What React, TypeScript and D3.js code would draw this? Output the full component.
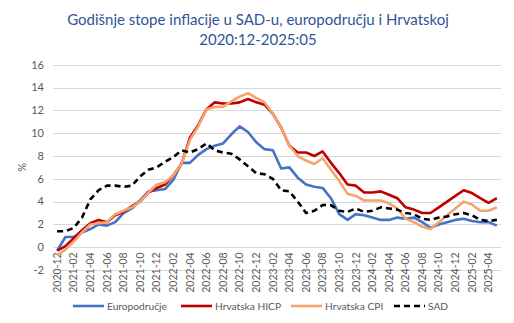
import React from "react";
import * as d3 from "d3";

const months = [
  "2020-12",
  "2021-01","2021-02","2021-03","2021-04","2021-05","2021-06","2021-07","2021-08","2021-09","2021-10","2021-11","2021-12",
  "2022-01","2022-02","2022-03","2022-04","2022-05","2022-06","2022-07","2022-08","2022-09","2022-10","2022-11","2022-12",
  "2023-01","2023-02","2023-03","2023-04","2023-05","2023-06","2023-07","2023-08","2023-09","2023-10","2023-11","2023-12",
  "2024-01","2024-02","2024-03","2024-04","2024-05","2024-06","2024-07","2024-08","2024-09","2024-10","2024-11","2024-12",
  "2025-01","2025-02","2025-03","2025-04","2025-05",
];

const euroArea = [
  -0.3,
  0.9, 0.9, 1.3, 1.6, 2.0, 1.9, 2.2, 3.0, 3.4, 4.1, 4.9, 5.0,
  5.1, 5.9, 7.4, 7.4, 8.1, 8.6, 8.9, 9.1, 9.9, 10.6, 10.1, 9.2,
  8.6, 8.5, 6.9, 7.0, 6.1, 5.5, 5.3, 5.2, 4.3, 2.9, 2.4, 2.9,
  2.8, 2.6, 2.4, 2.4, 2.6, 2.5, 2.6, 2.2, 1.7, 2.0, 2.2, 2.4,
  2.5, 2.3, 2.2, 2.2, 1.9,
];

const croHicp = [
  -0.3,
  0.1, 0.8, 1.5, 2.1, 2.4, 2.2, 2.8, 3.1, 3.6, 4.0, 4.8, 5.2,
  5.5, 6.3, 7.3, 9.6, 10.7, 12.1, 12.7, 12.6, 12.6, 12.7, 13.0, 12.7,
  12.5, 11.7, 10.5, 8.9, 8.3, 8.3, 8.0, 8.4, 7.4, 6.5, 5.5, 5.4,
  4.8, 4.8, 4.9, 4.6, 4.3, 3.5, 3.3, 3.0, 3.0, 3.5, 4.0, 4.5,
  5.0, 4.75, 4.3, 3.9, 4.3,
];

const croCpi = [
  -0.7,
  -0.2, 0.5, 1.3, 2.0, 2.1, 2.2, 2.9, 3.2, 3.5, 4.0, 4.8, 5.5,
  5.7, 6.3, 7.3, 9.4, 10.6, 12.1, 12.3, 12.3, 12.8, 13.2, 13.5, 13.1,
  12.7, 11.7, 10.5, 8.9, 8.0, 7.6, 7.3, 7.8, 6.8, 5.8, 4.7, 4.5,
  4.1, 4.1, 4.1, 3.85, 3.4, 2.5, 2.2, 1.8, 1.6, 2.2, 2.8, 3.4,
  4.0, 3.75, 3.2, 3.2, 3.5,
];

const usa = [
  1.4,
  1.4, 1.7, 2.6, 4.2, 5.0, 5.4, 5.4, 5.3, 5.4, 6.2, 6.8, 7.0,
  7.5, 7.9, 8.5, 8.3, 8.6, 9.1, 8.5, 8.3, 8.2, 7.7, 7.1, 6.5,
  6.4, 6.0, 5.0, 4.9, 4.0, 3.0, 3.2, 3.7, 3.7, 3.2, 3.1, 3.4,
  3.1, 3.2, 3.5, 3.4, 3.3, 3.0, 2.9, 2.5, 2.4, 2.6, 2.7, 2.9,
  3.0, 2.8, 2.4, 2.3, 2.4,
];

const yTicks = [-2, 0, 2, 4, 6, 8, 10, 12, 14, 16];
const titleLines = [
  "Godišnje stope inflacije u SAD-u, europodručju i Hrvatskoj",
  "2020:12-2025:05",
];

const series = [
  { name: "Europodručje", values: euroArea, color: "#4472C4", dash: "" },
  { name: "Hrvatska HICP", values: croHicp, color: "#C00000", dash: "" },
  { name: "Hrvatska CPI", values: croCpi, color: "#F4A46C", dash: "" },
  { name: "SAD", values: usa, color: "#000000", dash: "6,4" },
];

const FONT = "Lato, 'Open Sans', sans-serif";

export default function App() {
  const W = 514, H = 323;
  const x = d3.scaleBand<string>().domain(months).range([53, 501]);
  const y = d3.scaleLinear().domain([-2, 16]).range([270.1, 64.7]);
  const cx = (m: string) => (x(m) as number) + x.bandwidth() / 2;
  const line = d3
    .line<number>()
    .x((_, i) => cx(months[i]))
    .y((v) => y(v));

  const legendItems = [
    { x0: 73, tx: 107 },
    { x0: 181, tx: 215 },
    { x0: 291, tx: 325 },
    { x0: 394, tx: 428 },
  ];

  return (
    <svg
      width={W}
      height={H}
      style={{ position: "absolute", left: 0, top: 0, background: "#fff" }}
      fontFamily={FONT}
    >
      <rect width={W} height={H} fill="#fff" />
      {titleLines.map((t, i) => (
        <text
          key={i}
          x={258}
          y={25 + i * 20}
          textAnchor="middle"
          fontSize={15}
          fill="#2F5597"
        >
          {t}
        </text>
      ))}
      {yTicks.map((t) => (
        <g key={t}>
          <line
            x1={53}
            x2={501}
            y1={Math.round(y(t)) + 0.5}
            y2={Math.round(y(t)) + 0.5}
            stroke="#D9D9D9"
            strokeWidth={1}
          />
          <text
            x={44}
            y={y(t)}
            dy="0.35em"
            textAnchor="end"
            fontSize={11}
            fill="#595959"
          >
            {t}
          </text>
        </g>
      ))}
      <text
        transform={`translate(26,${y(7)}) rotate(-90)`}
        textAnchor="middle"
        fontSize={11}
        fill="#595959"
      >
        %
      </text>
      {months.map((m, i) =>
        i % 2 === 0 ? (
          <text
            key={m}
            transform={`translate(${cx(m)},${y(0) + 5}) rotate(-90)`}
            textAnchor="end"
            dy="0.35em"
            fontSize={10.5}
            fill="#595959"
          >
            {m}
          </text>
        ) : null
      )}
      {series.map((s) => (
        <path
          key={s.name}
          d={line(s.values) || ""}
          fill="none"
          stroke={s.color}
          strokeWidth={2.6}
          strokeDasharray={s.dash || undefined}
          strokeLinejoin="round"
        />
      ))}
      {series.map((s, i) => (
        <g key={s.name}>
          <line
            x1={legendItems[i].x0}
            x2={legendItems[i].x0 + 31}
            y1={306}
            y2={306}
            stroke={s.color}
            strokeWidth={2.6}
            strokeDasharray={s.dash || undefined}
          />
          <text
            x={legendItems[i].tx}
            y={306}
            dy="0.35em"
            fontSize={10.2}
            fill="#595959"
          >
            {s.name}
          </text>
        </g>
      ))}
    </svg>
  );
}
